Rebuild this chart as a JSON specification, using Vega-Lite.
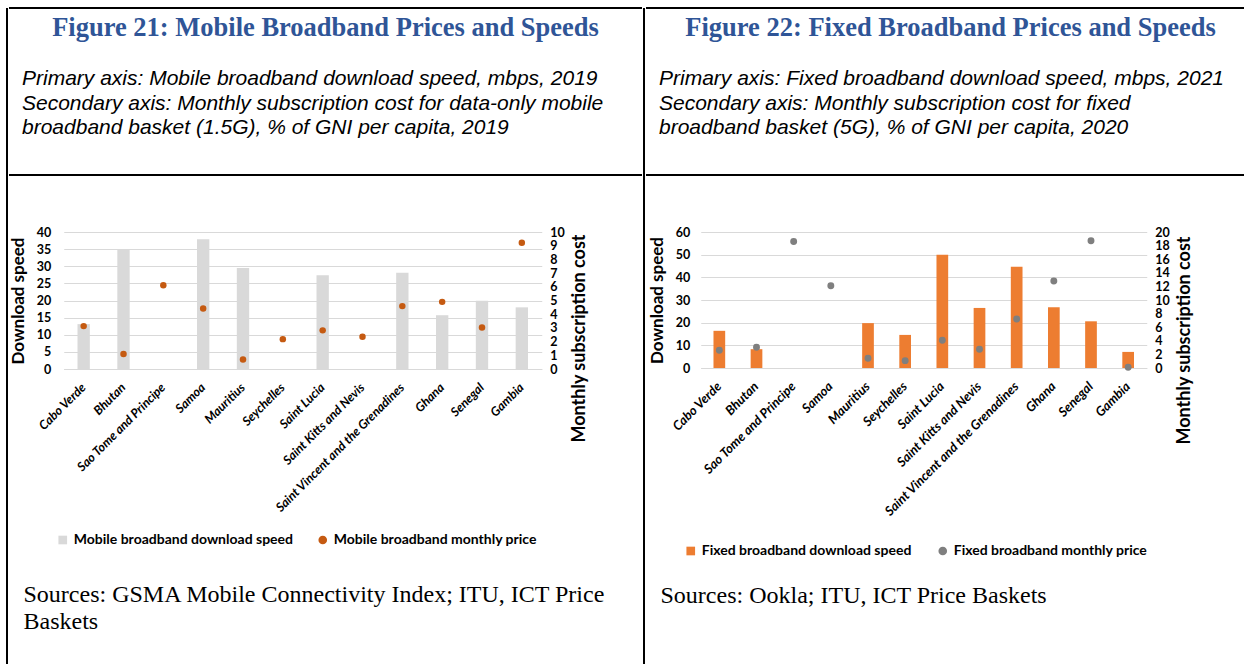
{
  "$schema": "https://vega.github.io/schema/vega-lite/v6.json",
  "background": "white",
  "padding": {"left": 6, "top": 7, "right": 0, "bottom": 0},
  "config": {
    "view": {"stroke": null},
    "axis": {"labelFont": "Lato", "titleFont": "Lato", "labelColor": "#000", "titleColor": "#000"}
  },
  "spacing": 0,
  "resolve": {"scale": {"color": "independent", "shape": "independent"}, "legend": {"color": "independent", "shape": "independent"}},
  "hconcat": [
    {"width": 2, "height": 657, "view": {"fill": "#000", "stroke": null}, "data": {"values": []}, "mark": "point"},
    {
      "title": {"text": "Figure 21: Mobile Broadband Prices and Speeds", "font": "Liberation Serif", "fontSize": 26.5, "fontWeight": "bold", "color": "#2F5597", "anchor": "middle", "offset": -34},
      "spacing": 50,
      "center": true,
      "resolve": {"scale": {"color": "independent", "shape": "independent"}, "legend": {"color": "independent", "shape": "independent"}},
      "vconcat": [
        {
          "width": 633, "height": 167,
          "view": {"stroke": "#000", "strokeWidth": 2, "strokeDash": [633, 167]},
          "data": {"values": []}, "mark": "point",
          "title": {"text": ["Primary axis: Mobile broadband download speed, mbps, 2019", "Secondary axis: Monthly subscription cost for data-only mobile", "broadband basket (1.5G), % of GNI per capita, 2019"], "font": "Liberation Sans", "fontSize": 21, "fontStyle": "italic", "fontWeight": "normal", "color": "#000", "lineHeight": 24.5, "anchor": "start", "frame": "group", "offset": -130, "dx": 13}
        },
        {
          "spacing": 36,
          "center": true,
          "resolve": {"scale": {"color": "independent", "shape": "independent"}, "legend": {"color": "independent", "shape": "independent"}},
          "vconcat": [
            {
              "width": 478, "height": 137,
              "data": {"values": [
                {"country": "Cabo Verde", "series": "Mobile broadband download speed", "value": 13.1},
                {"country": "Bhutan", "series": "Mobile broadband download speed", "value": 35.0},
                {"country": "Samoa", "series": "Mobile broadband download speed", "value": 37.9},
                {"country": "Mauritius", "series": "Mobile broadband download speed", "value": 29.5},
                {"country": "Saint Lucia", "series": "Mobile broadband download speed", "value": 27.4},
                {"country": "Saint Vincent and the Grenadines", "series": "Mobile broadband download speed", "value": 28.1},
                {"country": "Ghana", "series": "Mobile broadband download speed", "value": 15.7},
                {"country": "Senegal", "series": "Mobile broadband download speed", "value": 19.9},
                {"country": "Gambia", "series": "Mobile broadband download speed", "value": 18.0},
                {"country": "Cabo Verde", "series": "Mobile broadband monthly price", "value": 3.13},
                {"country": "Bhutan", "series": "Mobile broadband monthly price", "value": 1.09},
                {"country": "Sao Tome and Principe", "series": "Mobile broadband monthly price", "value": 6.12},
                {"country": "Samoa", "series": "Mobile broadband monthly price", "value": 4.42},
                {"country": "Mauritius", "series": "Mobile broadband monthly price", "value": 0.7},
                {"country": "Seychelles", "series": "Mobile broadband monthly price", "value": 2.18},
                {"country": "Saint Lucia", "series": "Mobile broadband monthly price", "value": 2.82},
                {"country": "Saint Kitts and Nevis", "series": "Mobile broadband monthly price", "value": 2.35},
                {"country": "Saint Vincent and the Grenadines", "series": "Mobile broadband monthly price", "value": 4.59},
                {"country": "Ghana", "series": "Mobile broadband monthly price", "value": 4.9},
                {"country": "Senegal", "series": "Mobile broadband monthly price", "value": 3.03},
                {"country": "Gambia", "series": "Mobile broadband monthly price", "value": 9.22}
              ]},
              "encoding": {
                "x": {"field": "country", "type": "nominal",
                  "scale": {"domain": ["Cabo Verde", "Bhutan", "Sao Tome and Principe", "Samoa", "Mauritius", "Seychelles", "Saint Lucia", "Saint Kitts and Nevis", "Saint Vincent and the Grenadines", "Ghana", "Senegal", "Gambia"], "paddingInner": 0.69, "paddingOuter": 0.345},
                  "axis": {"title": null, "labelAngle": -45, "labelAlign": "right", "labelBaseline": "middle", "labelPadding": 16, "labelFontSize": 12.5, "labelFontStyle": "italic", "labelFontWeight": "bold", "labelLimit": 400, "labelOverlap": false, "ticks": false, "domainColor": "#D9D9D9"}},
                "color": {"field": "series", "type": "nominal",
                  "scale": {"domain": ["Mobile broadband download speed", "Mobile broadband monthly price"], "range": ["#D9D9D9", "#C55A11"]},
                  "legend": {"title": null, "orient": "none", "legendX": -8, "legendY": 301, "direction": "horizontal", "labelFont": "Lato", "labelFontSize": 14, "labelFontWeight": "bold", "labelColor": "#000", "symbolSize": 75, "symbolStrokeWidth": 0, "columnPadding": 22, "labelOffset": 4, "labelLimit": 400}}
              },
              "layer": [
                {"transform": [{"filter": "datum.series == 'Mobile broadband download speed'"}],
                 "mark": {"type": "bar"},
                 "encoding": {"y": {"field": "value", "type": "quantitative", "scale": {"domain": [0, 40]},
                   "axis": {"title": "Download speed", "values": [0, 5, 10, 15, 20, 25, 30, 35, 40], "grid": true, "gridColor": "#D9D9D9", "domain": false, "ticks": false, "labelPadding": 13, "labelFontSize": 12.5, "labelFontWeight": "bold", "titleFontSize": 17, "titleFontWeight": "bold", "titlePadding": 9}}}},
                {"transform": [{"filter": "datum.series == 'Mobile broadband monthly price'"}],
                 "mark": {"type": "point", "filled": true, "opacity": 1, "size": 42},
                 "encoding": {
                   "y": {"field": "value", "type": "quantitative", "scale": {"domain": [0, 10]},
                     "axis": {"orient": "right", "title": "Monthly subscription cost", "values": [0, 1, 2, 3, 4, 5, 6, 7, 8, 9, 10], "grid": false, "domain": false, "ticks": false, "labelOverlap": false, "labelPadding": 8, "labelFontSize": 12.5, "labelFontWeight": "bold", "titleFontSize": 18, "titleFontWeight": "bold", "titleAngle": 270, "titleBaseline": "top", "titleY": 106, "titlePadding": 6}},
                   "shape": {"field": "series", "type": "nominal",
                     "scale": {"domain": ["Mobile broadband download speed", "Mobile broadband monthly price"], "range": ["square", "circle"]},
                     "legend": {"title": null, "orient": "none", "legendX": -8, "legendY": 301, "direction": "horizontal", "labelFont": "Lato", "labelFontSize": 14, "labelFontWeight": "bold", "labelColor": "#000", "symbolSize": 75, "symbolStrokeWidth": 0, "columnPadding": 22, "labelOffset": 4, "labelLimit": 400}}}}
              ],
              "resolve": {"scale": {"y": "independent"}}
            },
            {
              "width": 605, "height": 1,
              "data": {"values": []}, "mark": "point",
              "title": {"text": ["Sources: GSMA Mobile Connectivity Index; ITU, ICT Price", "Baskets"], "font": "Liberation Serif", "fontSize": 24, "fontWeight": "normal", "color": "#000", "lineHeight": 27, "anchor": "start", "frame": "group", "offset": 0}
            }
          ]
        }
      ]
    },
    {"width": 2, "height": 657, "view": {"fill": "#000", "stroke": null}, "data": {"values": []}, "mark": "point"},
    {
      "title": {"text": "Figure 22: Fixed Broadband Prices and Speeds", "font": "Liberation Serif", "fontSize": 26.5, "fontWeight": "bold", "color": "#2F5597", "anchor": "middle", "offset": -34, "dx": 4},
      "spacing": 50,
      "center": true,
      "resolve": {"scale": {"color": "independent", "shape": "independent"}, "legend": {"color": "independent", "shape": "independent"}},
      "vconcat": [
        {
          "width": 601, "height": 167,
          "view": {"stroke": "#000", "strokeWidth": 2, "strokeDash": [601, 167]},
          "data": {"values": []}, "mark": "point",
          "title": {"text": ["Primary axis: Fixed broadband download speed, mbps, 2021", "Secondary axis: Monthly subscription cost for fixed", "broadband basket (5G), % of GNI per capita, 2020"], "font": "Liberation Sans", "fontSize": 21, "fontStyle": "italic", "fontWeight": "normal", "color": "#000", "lineHeight": 24.5, "anchor": "start", "frame": "group", "offset": -130, "dx": 13}
        },
        {
          "spacing": 26,
          "center": true,
          "resolve": {"scale": {"color": "independent", "shape": "independent"}, "legend": {"color": "independent", "shape": "independent"}},
          "vconcat": [
            {
              "width": 446, "height": 136,
              "data": {"values": [
                {"country": "Cabo Verde", "series": "Fixed broadband download speed", "value": 16.4},
                {"country": "Bhutan", "series": "Fixed broadband download speed", "value": 8.3},
                {"country": "Mauritius", "series": "Fixed broadband download speed", "value": 19.8},
                {"country": "Seychelles", "series": "Fixed broadband download speed", "value": 14.6},
                {"country": "Saint Lucia", "series": "Fixed broadband download speed", "value": 50.0},
                {"country": "Saint Kitts and Nevis", "series": "Fixed broadband download speed", "value": 26.5},
                {"country": "Saint Vincent and the Grenadines", "series": "Fixed broadband download speed", "value": 44.7},
                {"country": "Ghana", "series": "Fixed broadband download speed", "value": 26.8},
                {"country": "Senegal", "series": "Fixed broadband download speed", "value": 20.6},
                {"country": "Gambia", "series": "Fixed broadband download speed", "value": 7.1},
                {"country": "Cabo Verde", "series": "Fixed broadband monthly price", "value": 2.6},
                {"country": "Bhutan", "series": "Fixed broadband monthly price", "value": 3.05},
                {"country": "Sao Tome and Principe", "series": "Fixed broadband monthly price", "value": 18.6},
                {"country": "Samoa", "series": "Fixed broadband monthly price", "value": 12.1},
                {"country": "Mauritius", "series": "Fixed broadband monthly price", "value": 1.43},
                {"country": "Seychelles", "series": "Fixed broadband monthly price", "value": 1.08},
                {"country": "Saint Lucia", "series": "Fixed broadband monthly price", "value": 4.08},
                {"country": "Saint Kitts and Nevis", "series": "Fixed broadband monthly price", "value": 2.75},
                {"country": "Saint Vincent and the Grenadines", "series": "Fixed broadband monthly price", "value": 7.2},
                {"country": "Ghana", "series": "Fixed broadband monthly price", "value": 12.8},
                {"country": "Senegal", "series": "Fixed broadband monthly price", "value": 18.7},
                {"country": "Gambia", "series": "Fixed broadband monthly price", "value": 0.1}
              ]},
              "encoding": {
                "x": {"field": "country", "type": "nominal",
                  "scale": {"domain": ["Cabo Verde", "Bhutan", "Sao Tome and Principe", "Samoa", "Mauritius", "Seychelles", "Saint Lucia", "Saint Kitts and Nevis", "Saint Vincent and the Grenadines", "Ghana", "Senegal", "Gambia"], "paddingInner": 0.685, "paddingOuter": 0.3425},
                  "axis": {"title": null, "labelAngle": -45, "labelAlign": "right", "labelBaseline": "middle", "labelPadding": 16, "labelFontSize": 13, "labelFontStyle": "italic", "labelFontWeight": "bold", "labelLimit": 400, "labelOverlap": false, "ticks": false, "domainColor": "#D9D9D9"}},
                "color": {"field": "series", "type": "nominal",
                  "scale": {"domain": ["Fixed broadband download speed", "Fixed broadband monthly price"], "range": ["#ED7D31", "#7F7F7F"]},
                  "legend": {"title": null, "orient": "none", "legendX": -17, "legendY": 312, "direction": "horizontal", "labelFont": "Lato", "labelFontSize": 14, "labelFontWeight": "bold", "labelColor": "#000", "symbolSize": 75, "symbolStrokeWidth": 0, "columnPadding": 24, "labelOffset": 4, "labelLimit": 400}}
              },
              "layer": [
                {"transform": [{"filter": "datum.series == 'Fixed broadband download speed'"}],
                 "mark": {"type": "bar"},
                 "encoding": {"y": {"field": "value", "type": "quantitative", "scale": {"domain": [0, 60]},
                   "axis": {"title": "Download speed", "values": [0, 10, 20, 30, 40, 50, 60], "grid": true, "gridColor": "#D9D9D9", "domain": false, "ticks": false, "labelPadding": 11, "labelFontSize": 12.5, "labelFontWeight": "bold", "titleFontSize": 17, "titleFontWeight": "bold", "titlePadding": 9}}}},
                {"transform": [{"filter": "datum.series == 'Fixed broadband monthly price'"}],
                 "mark": {"type": "point", "filled": true, "opacity": 1, "size": 48},
                 "encoding": {
                   "y": {"field": "value", "type": "quantitative", "scale": {"domain": [0, 20]},
                     "axis": {"orient": "right", "title": "Monthly subscription cost", "values": [0, 2, 4, 6, 8, 10, 12, 14, 16, 18, 20], "grid": false, "domain": false, "ticks": false, "labelOverlap": false, "labelPadding": 8, "labelFontSize": 12.5, "labelFontWeight": "bold", "titleFontSize": 18, "titleFontWeight": "bold", "titleAngle": 270, "titleBaseline": "top", "titleY": 108, "titlePadding": 6}},
                   "shape": {"field": "series", "type": "nominal",
                     "scale": {"domain": ["Fixed broadband download speed", "Fixed broadband monthly price"], "range": ["square", "circle"]},
                     "legend": {"title": null, "orient": "none", "legendX": -17, "legendY": 312, "direction": "horizontal", "labelFont": "Lato", "labelFontSize": 14, "labelFontWeight": "bold", "labelColor": "#000", "symbolSize": 75, "symbolStrokeWidth": 0, "columnPadding": 24, "labelOffset": 4, "labelLimit": 400}}}}
              ],
              "resolve": {"scale": {"y": "independent"}}
            },
            {
              "width": 573, "height": 1,
              "data": {"values": []}, "mark": "point",
              "title": {"text": ["Sources: Ookla; ITU, ICT Price Baskets"], "font": "Liberation Serif", "fontSize": 24, "fontWeight": "normal", "color": "#000", "lineHeight": 27, "anchor": "start", "frame": "group", "offset": 0}
            }
          ]
        }
      ]
    }
  ]
}
